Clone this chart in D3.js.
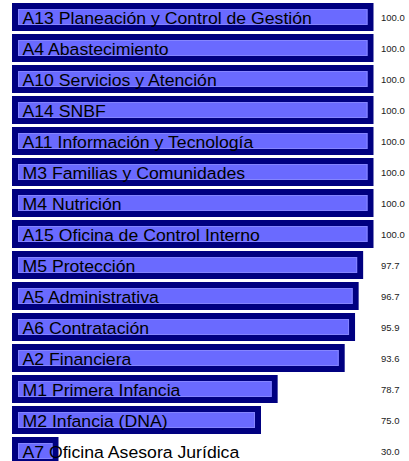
<!DOCTYPE html>
<html>
<head>
<meta charset="utf-8">
<script src="https://cdn.jsdelivr.net/npm/d3@7"></script>
<style>
html,body{margin:0;padding:0;background:#fff;}
svg{display:block;}
</style>
</head>
<body>
<script>
const categories = [
  "A13 Planeación y Control de Gestión",
  "A4 Abastecimiento",
  "A10 Servicios y Atención",
  "A14 SNBF",
  "A11 Información y Tecnología",
  "M3 Familias y Comunidades",
  "M4 Nutrición",
  "A15 Oficina de Control Interno",
  "M5 Protección",
  "A5 Administrativa",
  "A6 Contratación",
  "A2 Financiera",
  "M1 Primera Infancia",
  "M2 Infancia (DNA)",
  "A7 Oficina Asesora Jurídica"
];
const values = [100.0,100.0,100.0,100.0,100.0,100.0,100.0,100.0,97.7,96.7,95.9,93.6,78.7,75.0,30.0];

const W = 409, H = 461;
const svg = d3.select("body").append("svg").attr("width", W).attr("height", H);

const x = d3.scaleLinear().domain([0, 100]).range([-76.5, 373.5]);
const left = 12;
const y = d3.scaleBand().domain(categories).range([3, 465]).paddingInner(3/31).paddingOuter(0);
const sw = 6;

const data = categories.map((c, i) => ({c, v: values[i]}));

const g = svg.append("g");
const rows = g.selectAll("g.row").data(data).join("g").attr("class", "row");

rows.append("rect")
  .attr("x", left + sw/2)
  .attr("y", d => y(d.c) + sw/2)
  .attr("width", d => Math.max(0, x(d.v) - left - sw))
  .attr("height", y.bandwidth() - sw)
  .attr("fill", "#6a6aff")
  .attr("stroke", "#000080")
  .attr("stroke-width", sw);

rows.append("rect")
  .attr("x", left + sw + 0.5)
  .attr("y", d => y(d.c) + sw + 0.5)
  .attr("width", d => Math.max(0, x(d.v) - left - 2*sw - 1))
  .attr("height", y.bandwidth() - 2*sw - 1)
  .attr("fill", "none")
  .attr("stroke", "#8585ff")
  .attr("stroke-width", 1);

rows.append("text")
  .attr("transform", d => `translate(22.5,${y(d.c) + 20.5}) scale(1.07,1)`)
  .attr("font-family", "'Liberation Sans', Arial, sans-serif")
  .attr("font-size", 16.5)
  .attr("fill", "#000")
  .text(d => d.c);

rows.append("text")
  .attr("x", 381)
  .attr("y", d => y(d.c) + 18)
  .attr("font-family", "'Liberation Sans', Arial, sans-serif")
  .attr("font-size", 9.5)
  .attr("fill", "#222")
  .text(d => d.v.toFixed(1));
</script>
</body>
</html>
